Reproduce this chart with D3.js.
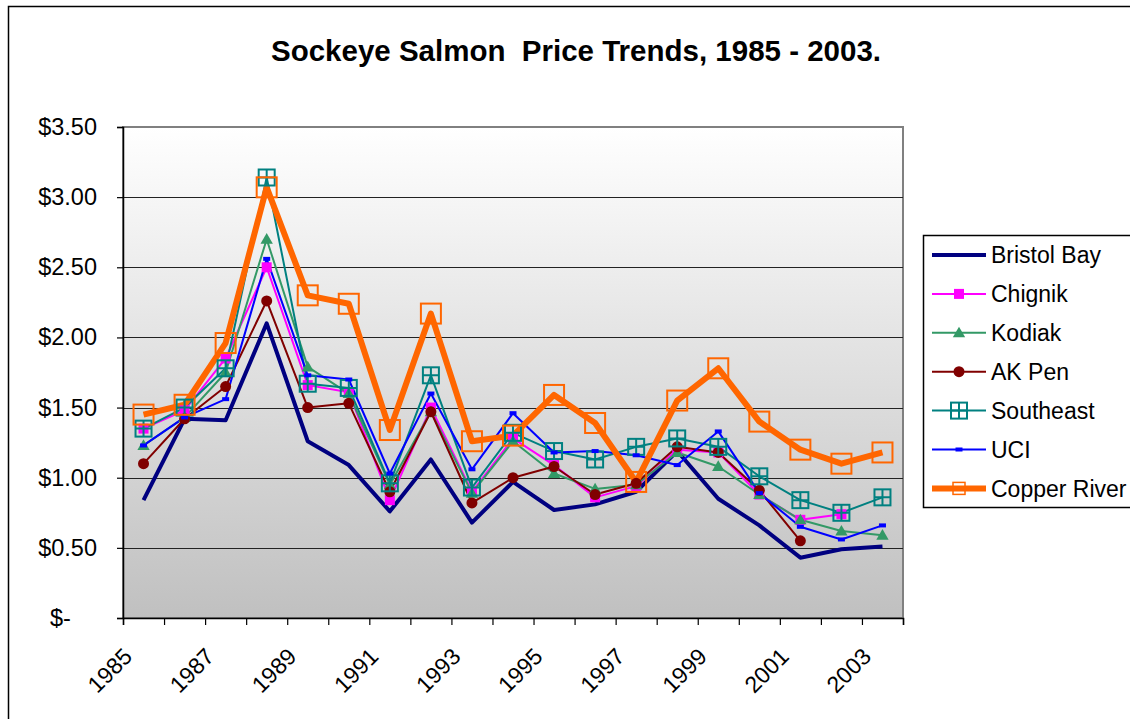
<!DOCTYPE html>
<html>
<head>
<meta charset="utf-8">
<script src="https://cdn.jsdelivr.net/npm/d3@7"></script>
<style>
  body { margin: 0; background: #fff; }
  text { font-family: "Liberation Sans", Arial, sans-serif; }
</style>
</head>
<body>
<div id="chart"></div>
<script>
// years on the category axis
var years = [1985, 1986, 1987, 1988, 1989, 1990, 1991, 1992, 1993, 1994,
             1995, 1996, 1997, 1998, 1999, 2000, 2001, 2002, 2003];

// price per pound (null = no value that year)
var bristolBay = [0.84, 1.42, 1.41, 2.10, 1.26, 1.09, 0.76, 1.13, 0.68, 0.97,
                  0.77, 0.81, 0.90, 1.19, 0.85, 0.66, 0.43, 0.49, 0.51];
var chignik    = [1.35, 1.48, 1.85, 2.50, 1.66, 1.61, 0.84, 1.50, 0.90, 1.28,
                  1.09, 0.86, 0.94, 1.20, 1.18, 0.88, 0.70, 0.74, null];
var kodiak     = [1.23, 1.43, 1.75, 2.70, 1.79, 1.60, 0.95, 1.47, 0.89, 1.26,
                  1.03, 0.92, 0.95, 1.18, 1.08, 0.88, 0.70, 0.62, 0.59];
var akPen      = [1.10, 1.42, 1.65, 2.26, 1.50, 1.53, 0.90, 1.47, 0.82, 1.00,
                  1.08, 0.88, 0.96, 1.22, 1.18, 0.91, 0.55, null, null];
var southeast  = [1.35, 1.50, 1.78, 3.14, 1.67, 1.64, 0.96, 1.73, 0.93, 1.32,
                  1.19, 1.13, 1.22, 1.28, 1.22, 1.01, 0.84, 0.75, 0.86];
var uci        = [1.23, 1.43, 1.56, 2.56, 1.73, 1.70, 1.03, 1.60, 1.06, 1.46,
                  1.18, 1.19, 1.16, 1.09, 1.33, 0.89, 0.65, 0.56, 0.66];
var copperRiver= [1.45, 1.52, 1.96, 3.07, 2.30, 2.24, 1.34, 2.17, 1.26, 1.30,
                  1.59, 1.39, 0.97, 1.55, 1.78, 1.40, 1.20, 1.10, 1.18];

var seriesNames = ["Bristol Bay", "Chignik", "Kodiak", "AK Pen", "Southeast", "UCI", "Copper River"];
var yTicks = [0, 0.5, 1, 1.5, 2, 2.5, 3, 3.5];
var labelYears = [1985, 1987, 1989, 1991, 1993, 1995, 1997, 1999, 2001, 2003];

function init() {
    var w = 1130, h = 719;
    // plot area box
    var left = 123, right = 903, top = 127, bottom = 618;

    var series = [
        { name: seriesNames[0], values: bristolBay,  color: "#000080", width: 4, marker: "none" },
        { name: seriesNames[1], values: chignik,     color: "#ff00ff", width: 2, marker: "square" },
        { name: seriesNames[2], values: kodiak,      color: "#339966", width: 2, marker: "triangle" },
        { name: seriesNames[3], values: akPen,       color: "#800000", width: 2, marker: "circle" },
        { name: seriesNames[4], values: southeast,   color: "#008080", width: 2, marker: "boxplus" },
        { name: seriesNames[5], values: uci,         color: "#0000ff", width: 2, marker: "dash" },
        { name: seriesNames[6], values: copperRiver, color: "#ff6600", width: 6, marker: "box" }
    ];

    var svg = d3.select("#chart").append("svg")
        .attr("width", w)
        .attr("height", h);

    // chart border
    svg.append("rect")
        .attr("x", 8.5).attr("y", 6.5)
        .attr("width", w + 20).attr("height", h + 20)
        .attr("fill", "#fff").attr("stroke", "#000").attr("stroke-width", 1.5);

    svg.append("text")
        .attr("x", 576).attr("y", 61)
        .attr("text-anchor", "middle")
        .attr("font-size", 29.5).attr("font-weight", "bold")
        .style("white-space", "pre")
        .text("Sockeye Salmon  Price Trends, 1985 - 2003.");

    var xScale = d3.scaleBand().domain(years).range([left, right]).padding(0);
    var yScale = d3.scaleLinear().domain([0, 3.5]).range([bottom, top]);
    var cx = function(i) { return xScale(years[i]) + xScale.bandwidth() / 2; };

    // gradient background
    var grad = svg.append("defs").append("linearGradient")
        .attr("id", "bg").attr("x1", 0).attr("y1", 0).attr("x2", 0).attr("y2", 1);
    grad.append("stop").attr("offset", "0%").attr("stop-color", "#ffffff");
    grad.append("stop").attr("offset", "100%").attr("stop-color", "#c0c0c0");

    svg.append("rect")
        .attr("x", left).attr("y", top)
        .attr("width", right - left).attr("height", bottom - top)
        .attr("fill", "url(#bg)").attr("stroke", "#808080").attr("stroke-width", 2);

    // gridlines
    svg.selectAll(".grid")
        .data(yTicks.filter(function(d) { return d > 0 && d < 3.5; }))
        .enter().append("line")
        .attr("x1", left).attr("x2", right)
        .attr("y1", function(d) { return Math.round(yScale(d)) + 0.5; })
        .attr("y2", function(d) { return Math.round(yScale(d)) + 0.5; })
        .attr("stroke", "#222").attr("stroke-width", 1.2);

    // y axis
    var yAxis = d3.axisLeft(yScale)
        .tickValues(yTicks)
        .tickSize(6)
        .tickPadding(20)
        .tickFormat(function(d) { return d === 0 ? "$-\u2007\u2007" : d3.format("$.2f")(d); });

    var gy = svg.append("g")
        .attr("transform", "translate(" + left + ",0)")
        .call(yAxis);
    gy.select(".domain").attr("stroke", "#000").attr("stroke-width", 1.5);
    gy.selectAll(".tick line").attr("stroke", "#000").attr("stroke-width", 1.2);
    gy.selectAll(".tick text")
        .attr("font-size", 23.5).attr("fill", "#000")
        .attr("font-family", "Liberation Sans, Arial, sans-serif")
        .style("white-space", "pre");

    // x axis: ticks between categories
    var bounds = d3.range(years.length + 1);
    var xBound = d3.scaleLinear().domain([0, years.length]).range([left, right]);
    var xAxis = d3.axisBottom(xBound).tickValues(bounds).tickSize(7).tickFormat("");
    var gx = svg.append("g")
        .attr("transform", "translate(0," + bottom + ")")
        .call(xAxis);
    gx.select(".domain").attr("stroke", "#000").attr("stroke-width", 1.5);
    gx.selectAll(".tick line").attr("stroke", "#000").attr("stroke-width", 1.2);

    svg.selectAll(".xlabel")
        .data(labelYears)
        .enter().append("text")
        .attr("transform", function(d) {
            var x = xScale(d) + xScale.bandwidth() / 2 - 10;
            return "translate(" + x + ",658) rotate(-45)";
        })
        .attr("text-anchor", "end")
        .attr("font-size", 23)
        .text(function(d) { return d; });

    // lines first
    var line = d3.line()
        .defined(function(d) { return d != null; })
        .x(function(d, i) { return cx(i); })
        .y(function(d) { return yScale(d); });

    series.forEach(function(s) {
        svg.append("path")
            .datum(s.values)
            .attr("fill", "none")
            .attr("stroke", s.color)
            .attr("stroke-width", s.width)
            .attr("stroke-linejoin", "round")
            .attr("d", line);
    });

    function drawMarker(g, s, x, y, scale) {
        var k = scale || 1;
        if (s.marker === "square") {
            g.append("rect").attr("x", x - 5).attr("y", y - 5).attr("width", 10).attr("height", 10)
                .attr("fill", s.color);
        } else if (s.marker === "triangle") {
            g.append("path").attr("d", d3.symbol(d3.symbolTriangle, 66)())
                .attr("transform", "translate(" + x + "," + (y + 1) + ")")
                .attr("fill", s.color);
        } else if (s.marker === "circle") {
            g.append("circle").attr("cx", x).attr("cy", y).attr("r", 5.5).attr("fill", s.color);
        } else if (s.marker === "boxplus") {
            g.append("rect").attr("x", x - 8).attr("y", y - 8).attr("width", 16).attr("height", 16)
                .attr("fill", "none").attr("stroke", s.color).attr("stroke-width", 2);
            g.append("path").attr("d", "M" + (x - 8) + "," + y + "H" + (x + 8) + "M" + x + "," + (y - 8) + "V" + (y + 8))
                .attr("stroke", s.color).attr("stroke-width", 2);
        } else if (s.marker === "dash") {
            g.append("rect").attr("x", x - 3.5).attr("y", y - 2).attr("width", 7).attr("height", 4)
                .attr("fill", s.color);
        } else if (s.marker === "box") {
            g.append("rect").attr("x", x - 10).attr("y", y - 10).attr("width", 20).attr("height", 20)
                .attr("fill", "none").attr("stroke", s.color).attr("stroke-width", 2);
        }
    }

    // then markers
    series.forEach(function(s) {
        var g = svg.append("g");
        s.values.forEach(function(v, i) {
            if (v == null) return;
            drawMarker(g, s, cx(i), yScale(v));
        });
    });

    // legend
    var lg = svg.append("g");
    lg.append("rect")
        .attr("x", 923.5).attr("y", 235.5)
        .attr("width", 230).attr("height", 272)
        .attr("fill", "#fff").attr("stroke", "#000").attr("stroke-width", 1.5);

    series.forEach(function(s, i) {
        var y = 255 + i * 38.9;
        var g = lg.append("g");
        g.append("line")
            .attr("x1", 932).attr("x2", 986)
            .attr("y1", y).attr("y2", y)
            .attr("stroke", s.color).attr("stroke-width", s.width);
        if (s.marker === "box") {
            // smaller box in the legend
            g.append("rect").attr("x", 953).attr("y", y - 6).attr("width", 12).attr("height", 12)
                .attr("fill", "none").attr("stroke", s.color).attr("stroke-width", 1.5);
        } else {
            drawMarker(g, s, 959, y);
        }
        g.append("text")
            .attr("x", 991).attr("y", y)
            .attr("dy", "0.36em")
            .attr("font-size", 23)
            .text(s.name);
    });
}

window.onload = init;
</script>
</body>
</html>
